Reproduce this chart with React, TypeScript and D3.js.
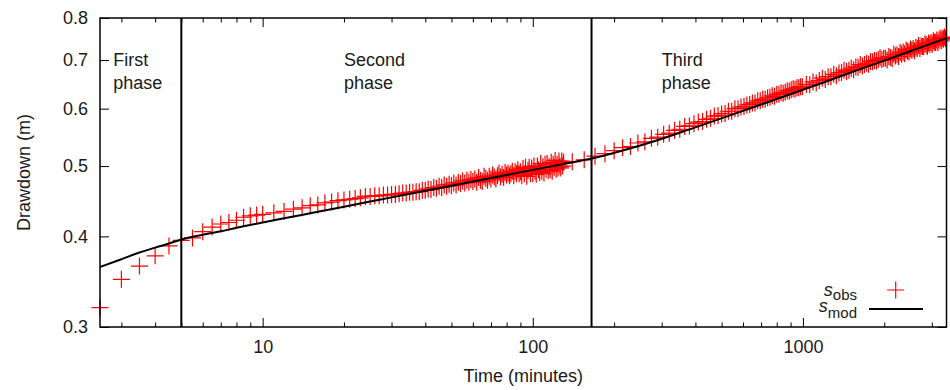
import React, { useRef, useEffect } from "react";
import * as d3 from "d3";

// observed drawdown, time in minutes
const obsTime = [
  2.5, 3, 3.5, 4, 4.5, 5, 5.5, 6, 6.5, 7, 7.5, 8, 8.5, 9, 9.5, 10,
  11, 12, 13, 14, 15, 16, 17, 18, 19, 20,
  21, 22, 23, 24, 25, 26, 27, 28, 29, 30,
  31, 32, 33, 34, 35, 36, 37, 38, 39, 40,
  41, 42, 43, 44, 45, 46, 47, 48, 49, 50,
  51, 52, 53, 54, 55, 56, 57, 58, 59, 60,
  61, 62, 63, 64, 65, 66, 67, 68, 69, 70,
  71, 72, 73, 74, 75, 76, 77, 78, 79, 80,
  81, 82, 83, 84, 85, 86, 87, 88, 89, 90,
  91, 92, 93, 94, 95, 96, 97, 98, 99, 100,
  101, 102, 103, 104, 105, 106, 107, 108, 109, 110,
  111, 112, 113, 114, 115, 116, 117, 118, 119, 120,
  121, 122, 123, 124, 125, 126, 127, 128, 129, 130,
  140, 155, 170, 185, 200, 215, 230, 245, 260, 275,
  290, 305, 320, 335, 350, 365, 380, 395, 410, 425,
  440, 455, 470, 485, 500, 515, 530, 545, 560, 575,
  590, 605, 620, 635, 650, 665, 680, 695, 710, 725,
  740, 755, 770, 785, 800, 815, 830, 845, 860, 875,
  890, 905, 920, 935, 950, 965, 980, 995,
  1030, 1060, 1090, 1120, 1150, 1180, 1210, 1240, 1270, 1300,
  1330, 1360, 1390, 1420, 1450, 1480, 1510, 1540, 1570, 1600,
  1630, 1660, 1690, 1720, 1750, 1780, 1810, 1840, 1870, 1900,
  1930, 1960, 1990, 2020, 2050, 2080, 2110, 2140, 2170, 2200,
  2230, 2260, 2290, 2320, 2350, 2380, 2410, 2440, 2470, 2500,
  2530, 2560, 2590, 2620, 2650, 2680, 2710, 2740, 2770, 2800,
  2830, 2860, 2890, 2920, 2950, 2980, 3010, 3040, 3070, 3100,
  3130, 3160, 3190, 3220, 3250, 3280, 3310, 3340, 3370, 3400,
];

const obsDrawdown = [
  0.319, 0.349, 0.364, 0.376, 0.388, 0.395, 0.398, 0.406, 0.412, 0.416, 0.418, 0.421, 0.425, 0.427, 0.428, 0.429,
  0.431, 0.433, 0.436, 0.438, 0.441, 0.442, 0.445, 0.446, 0.448, 0.449,
  0.450, 0.451, 0.452, 0.454, 0.454, 0.455, 0.455, 0.456, 0.456, 0.457,
  0.457, 0.458, 0.459, 0.459, 0.460, 0.460, 0.461, 0.461, 0.463, 0.463,
  0.465, 0.464, 0.467, 0.466, 0.469, 0.467, 0.471, 0.469, 0.472, 0.470,
  0.474, 0.471, 0.475, 0.473, 0.477, 0.474, 0.478, 0.475, 0.479, 0.476,
  0.480, 0.475, 0.482, 0.478, 0.476, 0.484, 0.481, 0.478, 0.484, 0.480,
  0.486, 0.483, 0.480, 0.485, 0.489, 0.483, 0.487, 0.482, 0.490, 0.486,
  0.489, 0.485, 0.488, 0.492, 0.485, 0.491, 0.488, 0.494, 0.488, 0.491,
  0.485, 0.496, 0.488, 0.498, 0.484, 0.493, 0.498, 0.488, 0.497, 0.488,
  0.500, 0.492, 0.487, 0.500, 0.494, 0.490, 0.504, 0.492, 0.499, 0.489,
  0.503, 0.495, 0.504, 0.493, 0.499, 0.494, 0.506, 0.492, 0.503, 0.498,
  0.509, 0.495, 0.503, 0.497, 0.508, 0.500, 0.497, 0.508, 0.500, 0.506,
  0.507, 0.510, 0.516, 0.520, 0.525, 0.530, 0.532, 0.538, 0.540, 0.546,
  0.548, 0.553, 0.555, 0.560, 0.562, 0.567, 0.568, 0.572, 0.575, 0.576,
  0.580, 0.582, 0.586, 0.587, 0.590, 0.591, 0.595, 0.595, 0.600, 0.600,
  0.603, 0.604, 0.607, 0.608, 0.611, 0.611, 0.615, 0.615, 0.618, 0.618,
  0.621, 0.622, 0.625, 0.624, 0.628, 0.628, 0.631, 0.630, 0.632, 0.635,
  0.634, 0.637, 0.639, 0.638, 0.641, 0.641, 0.643, 0.643,
  0.648, 0.647, 0.653, 0.651, 0.656, 0.661, 0.658, 0.664, 0.664, 0.669,
  0.666, 0.672, 0.673, 0.678, 0.675, 0.678, 0.682, 0.679, 0.685, 0.684,
  0.690, 0.687, 0.690, 0.693, 0.691, 0.697, 0.696, 0.699, 0.698, 0.701,
  0.705, 0.701, 0.704, 0.704, 0.700, 0.708, 0.706, 0.703, 0.713, 0.709,
  0.712, 0.708, 0.717, 0.713, 0.718, 0.714, 0.723, 0.720, 0.718, 0.725,
  0.722, 0.726, 0.721, 0.729, 0.726, 0.733, 0.726, 0.732, 0.731, 0.730,
  0.737, 0.735, 0.731, 0.739, 0.736, 0.740, 0.736, 0.744, 0.741, 0.740,
  0.746, 0.740, 0.746, 0.750, 0.744, 0.750, 0.748, 0.753, 0.749, 0.752,
];

// fitted model curve
const modelTime = [
  2.5, 3, 3.5, 4, 4.5, 5, 6, 7, 8, 10, 13, 16, 20, 25, 30, 40, 50, 60, 80, 100,
  130, 165, 222, 295, 392, 521, 692, 1000, 1400, 2000, 2700, 3400,
];
const modelDrawdown = [
  0.363, 0.372, 0.38, 0.386, 0.391, 0.396, 0.402, 0.4065, 0.411, 0.418, 0.426, 0.4325, 0.4395, 0.4467, 0.4527, 0.4622, 0.4698, 0.476, 0.486, 0.494,
  0.5034, 0.512, 0.527, 0.544, 0.564, 0.585, 0.607, 0.637, 0.6664, 0.6988, 0.7276, 0.7505,
];

const phaseBoundaries = [5, 165];
const phaseNames = ["First", "Second", "Third"];
const phaseLabelTimes = [2.8, 20, 300];

const yTicks = [0.3, 0.4, 0.5, 0.6, 0.7, 0.8];
const xMajorTicks = [10, 100, 1000];
const xMinorTicks = [3, 4, 5, 6, 7, 8, 9, 20, 30, 40, 50, 60, 70, 80, 90, 200, 300, 400, 500, 600, 700, 800, 900, 2000, 3000];

const FONT = "'Liberation Sans', Arial, Helvetica, sans-serif";

function DrawdownPlot() {
  const svgRef = useRef<SVGSVGElement>(null);

  useEffect(() => {
    const svg = d3.select(svgRef.current);
    svg.selectAll("*").remove();

    const W = 950;
    const H = 390;
    const margin = { top: 18, right: 3.5, bottom: 63, left: 100 };
    const xl = margin.left;
    const xr = W - margin.right;
    const yb = H - margin.bottom;
    const yt = margin.top;

    const x = d3.scaleLog().domain([2.5, 3400]).range([xl, xr]);
    const y = d3.scaleLog().domain([0.3, 0.8]).range([yb, yt]);

    const g = svg.append("g").attr("font-family", FONT).attr("font-size", 18);

    // observed points as "+" marks
    const obs = obsTime.map((t, i) => ({ t, s: obsDrawdown[i] }));
    g.append("g")
      .selectAll("path")
      .data(obs)
      .join("path")
      .attr("d", (d) => {
        const cx = x(d.t);
        const cy = y(d.s);
        return `M${cx - 8.5},${cy}h17M${cx},${cy - 8.5}v17`;
      })
      .attr("fill", "none")
      .attr("stroke", "#ff0000")
      .attr("stroke-width", 1.2);

    // model line
    const model = modelTime.map((t, i) => ({ t, s: modelDrawdown[i] }));
    const line = d3
      .line<{ t: number; s: number }>()
      .x((d) => x(d.t))
      .y((d) => y(d.s))
      .curve(d3.curveMonotoneX);
    g.append("path")
      .datum(model)
      .attr("d", line)
      .attr("fill", "none")
      .attr("stroke", "#000")
      .attr("stroke-width", 2);

    // phase boundaries
    g.append("g")
      .selectAll("line")
      .data(phaseBoundaries)
      .join("line")
      .attr("x1", (d) => x(d))
      .attr("x2", (d) => x(d))
      .attr("y1", yt)
      .attr("y2", yb)
      .attr("stroke", "#000")
      .attr("stroke-width", 2);

    // axes (gnuplot style: inward ticks, mirrored)
    const tidy = (sel) => {
      sel.select(".domain").remove();
      sel.attr("font-family", FONT).attr("font-size", 18);
      sel.selectAll("line").attr("stroke", "#000");
      sel.selectAll("text").attr("fill", "#1a1a1a");
    };
    const none = () => "";

    g.append("g")
      .attr("transform", `translate(0,${yb})`)
      .call(d3.axisBottom(x).tickValues(xMajorTicks).tickSize(-9).tickPadding(13).tickFormat(d3.format("d")))
      .call(tidy);
    g.append("g")
      .attr("transform", `translate(0,${yb})`)
      .call(d3.axisBottom(x).tickValues(xMinorTicks).tickSize(-4.5).tickFormat(none))
      .call(tidy);
    g.append("g")
      .attr("transform", `translate(0,${yt})`)
      .call(d3.axisTop(x).tickValues(xMajorTicks).tickSize(-9).tickFormat(none))
      .call(tidy);
    g.append("g")
      .attr("transform", `translate(0,${yt})`)
      .call(d3.axisTop(x).tickValues(xMinorTicks).tickSize(-4.5).tickFormat(none))
      .call(tidy);
    g.append("g")
      .attr("transform", `translate(${xl},0)`)
      .call(d3.axisLeft(y).tickValues(yTicks).tickSize(-9).tickPadding(12).tickFormat(d3.format(".1f")))
      .call(tidy);
    g.append("g")
      .attr("transform", `translate(${xr},0)`)
      .call(d3.axisRight(y).tickValues(yTicks).tickSize(-9).tickFormat(none))
      .call(tidy);

    // border
    g.append("rect")
      .attr("x", xl)
      .attr("y", yt)
      .attr("width", xr - xl)
      .attr("height", yb - yt)
      .attr("fill", "none")
      .attr("stroke", "#000")
      .attr("stroke-width", 1.5);

    // phase labels
    phaseNames.forEach((name, i) => {
      const t = g.append("text").attr("x", x(phaseLabelTimes[i])).attr("y", 66).attr("fill", "#1a1a1a");
      t.append("tspan").text(name);
      t.append("tspan").attr("x", x(phaseLabelTimes[i])).attr("dy", 23).text("phase");
    });

    // axis titles
    g.append("text")
      .attr("x", (xl + xr) / 2)
      .attr("y", 382)
      .attr("text-anchor", "middle")
      .attr("fill", "#1a1a1a")
      .text("Time (minutes)");
    g.append("text")
      .attr("transform", `translate(29.5,${(yt + yb) / 2}) rotate(-90)`)
      .attr("text-anchor", "middle")
      .attr("fill", "#1a1a1a")
      .text("Drawdown (m)");

    // legend
    const leg = g.append("g");
    const obsLabel = leg.append("text").attr("x", 857).attr("y", 296).attr("text-anchor", "end").attr("fill", "#1a1a1a");
    obsLabel.append("tspan").attr("font-style", "italic").text("s");
    obsLabel.append("tspan").attr("font-size", 15).attr("dy", 4).text("obs");
    const modLabel = leg.append("text").attr("x", 857).attr("y", 312).attr("text-anchor", "end").attr("fill", "#1a1a1a");
    modLabel.append("tspan").attr("font-style", "italic").text("s");
    modLabel.append("tspan").attr("font-size", 15).attr("dy", 6).text("mod");
    leg.append("path")
      .attr("d", "M887.2,290h17M895.7,281.5v17")
      .attr("stroke", "#ff0000")
      .attr("stroke-width", 1.2);
    leg.append("line")
      .attr("x1", 869)
      .attr("x2", 923)
      .attr("y1", 309)
      .attr("y2", 309)
      .attr("stroke", "#000")
      .attr("stroke-width", 2);
  }, []);

  return (
    <svg
      ref={svgRef}
      width={950}
      height={390}
      style={{ position: "absolute", left: 0, top: 0, display: "block", background: "#fff" }}
    />
  );
}

export default function App() {
  return <DrawdownPlot />;
}
